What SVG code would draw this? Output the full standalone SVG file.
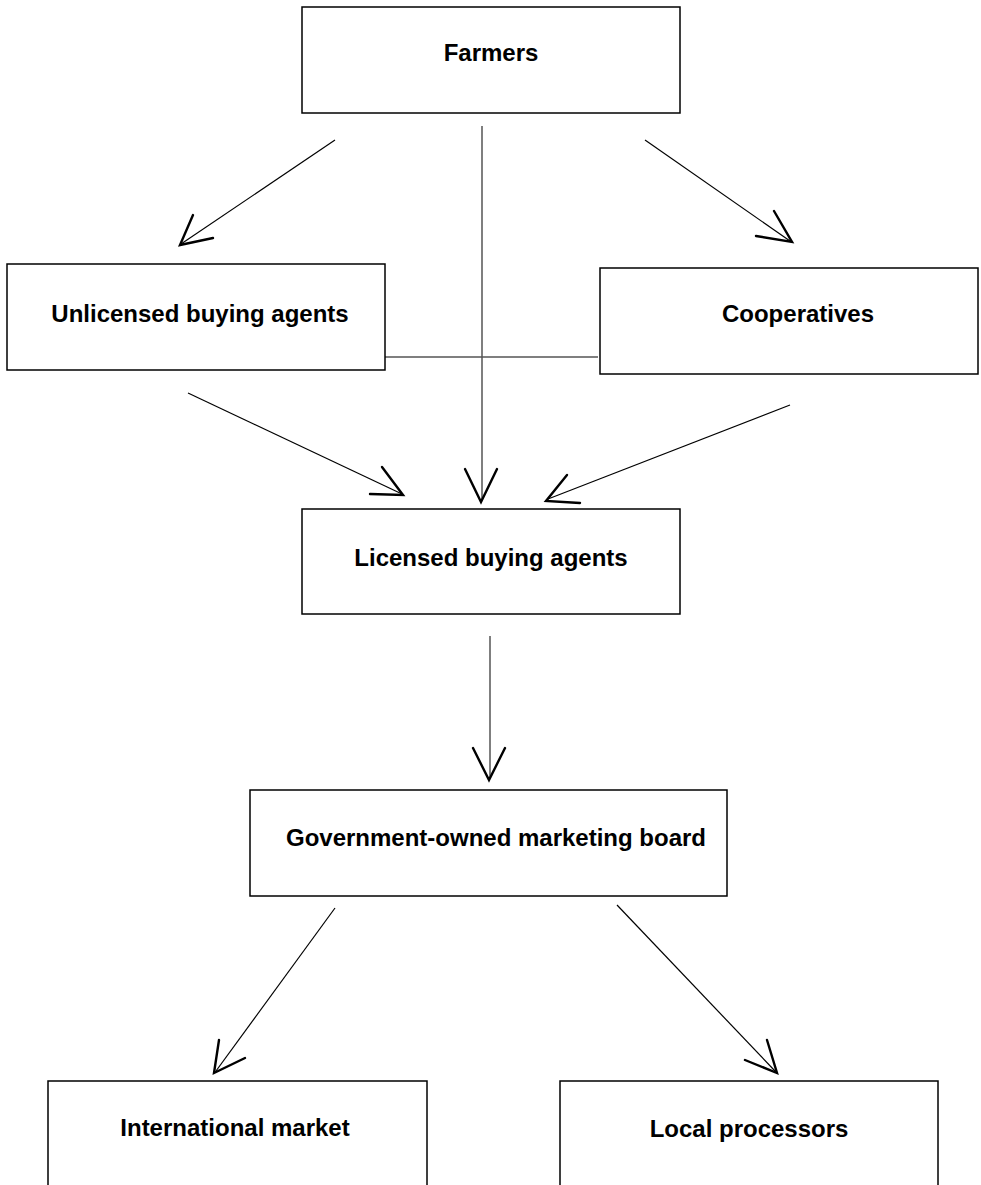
<svg xmlns="http://www.w3.org/2000/svg" width="981" height="1185" viewBox="0 0 981 1185">
<style>
.box{fill:#fff;stroke:#000;stroke-width:1.5}
.lbl{font-family:"Liberation Sans",Arial,sans-serif;font-weight:bold;font-size:24px;fill:#000;text-anchor:middle}
.ln{stroke:#000;stroke-width:1.2;fill:none}
.gl{stroke:#555;stroke-width:1.5;fill:none}
.hd{stroke:#000;stroke-width:2.4;fill:none;stroke-linecap:round;stroke-linejoin:miter}
</style>
<rect width="981" height="1185" fill="#fff"/>
<g id="connectors">
<line class="ln" x1="335" y1="140" x2="181" y2="244"/>
<polyline class="hd" points="193,215 180,245 213,238"/>
<line class="gl" x1="482" y1="126" x2="482" y2="500"/>
<polyline class="hd" points="465,469 481,502 497,469"/>
<line class="gl" x1="384" y1="357" x2="598" y2="357"/>
<line class="ln" x1="645" y1="140" x2="790" y2="241"/>
<polyline class="hd" points="774,211 792,242 756,236"/>
<line class="ln" x1="188" y1="393" x2="402" y2="494"/>
<polyline class="hd" points="382,467 403,495 370,494"/>
<line class="ln" x1="790" y1="405" x2="548" y2="499"/>
<polyline class="hd" points="567,475 546,501 580,503"/>
<line class="gl" x1="490" y1="636" x2="490" y2="778"/>
<polyline class="hd" points="473,748 489,780 505,748"/>
<line class="ln" x1="335" y1="908" x2="216" y2="1071"/>
<polyline class="hd" points="219,1040 214,1073 245,1058"/>
<line class="ln" x1="617" y1="905" x2="775" y2="1071"/>
<polyline class="hd" points="767,1040 777,1073 745,1060"/>
</g>
<g id="farmers"><rect class="box" x="302" y="7" width="378" height="106"/><text class="lbl" x="491" y="61">Farmers</text></g>
<g id="unlicensed"><rect class="box" x="7" y="264" width="378" height="106"/><text class="lbl" x="200" y="322">Unlicensed buying agents</text></g>
<g id="cooperatives"><rect class="box" x="600" y="268" width="378" height="106"/><text class="lbl" x="798" y="322">Cooperatives</text></g>
<g id="licensed"><rect class="box" x="302" y="509" width="378" height="105"/><text class="lbl" x="491" y="566">Licensed buying agents</text></g>
<g id="board"><rect class="box" x="250" y="790" width="477" height="106"/><text class="lbl" x="496" y="846">Government-owned marketing board</text></g>
<g id="international"><rect class="box" x="48" y="1081" width="379" height="120"/><text class="lbl" x="235" y="1136">International market</text></g>
<g id="local"><rect class="box" x="560" y="1081" width="378" height="120"/><text class="lbl" x="749" y="1137">Local processors</text></g>
</svg>
